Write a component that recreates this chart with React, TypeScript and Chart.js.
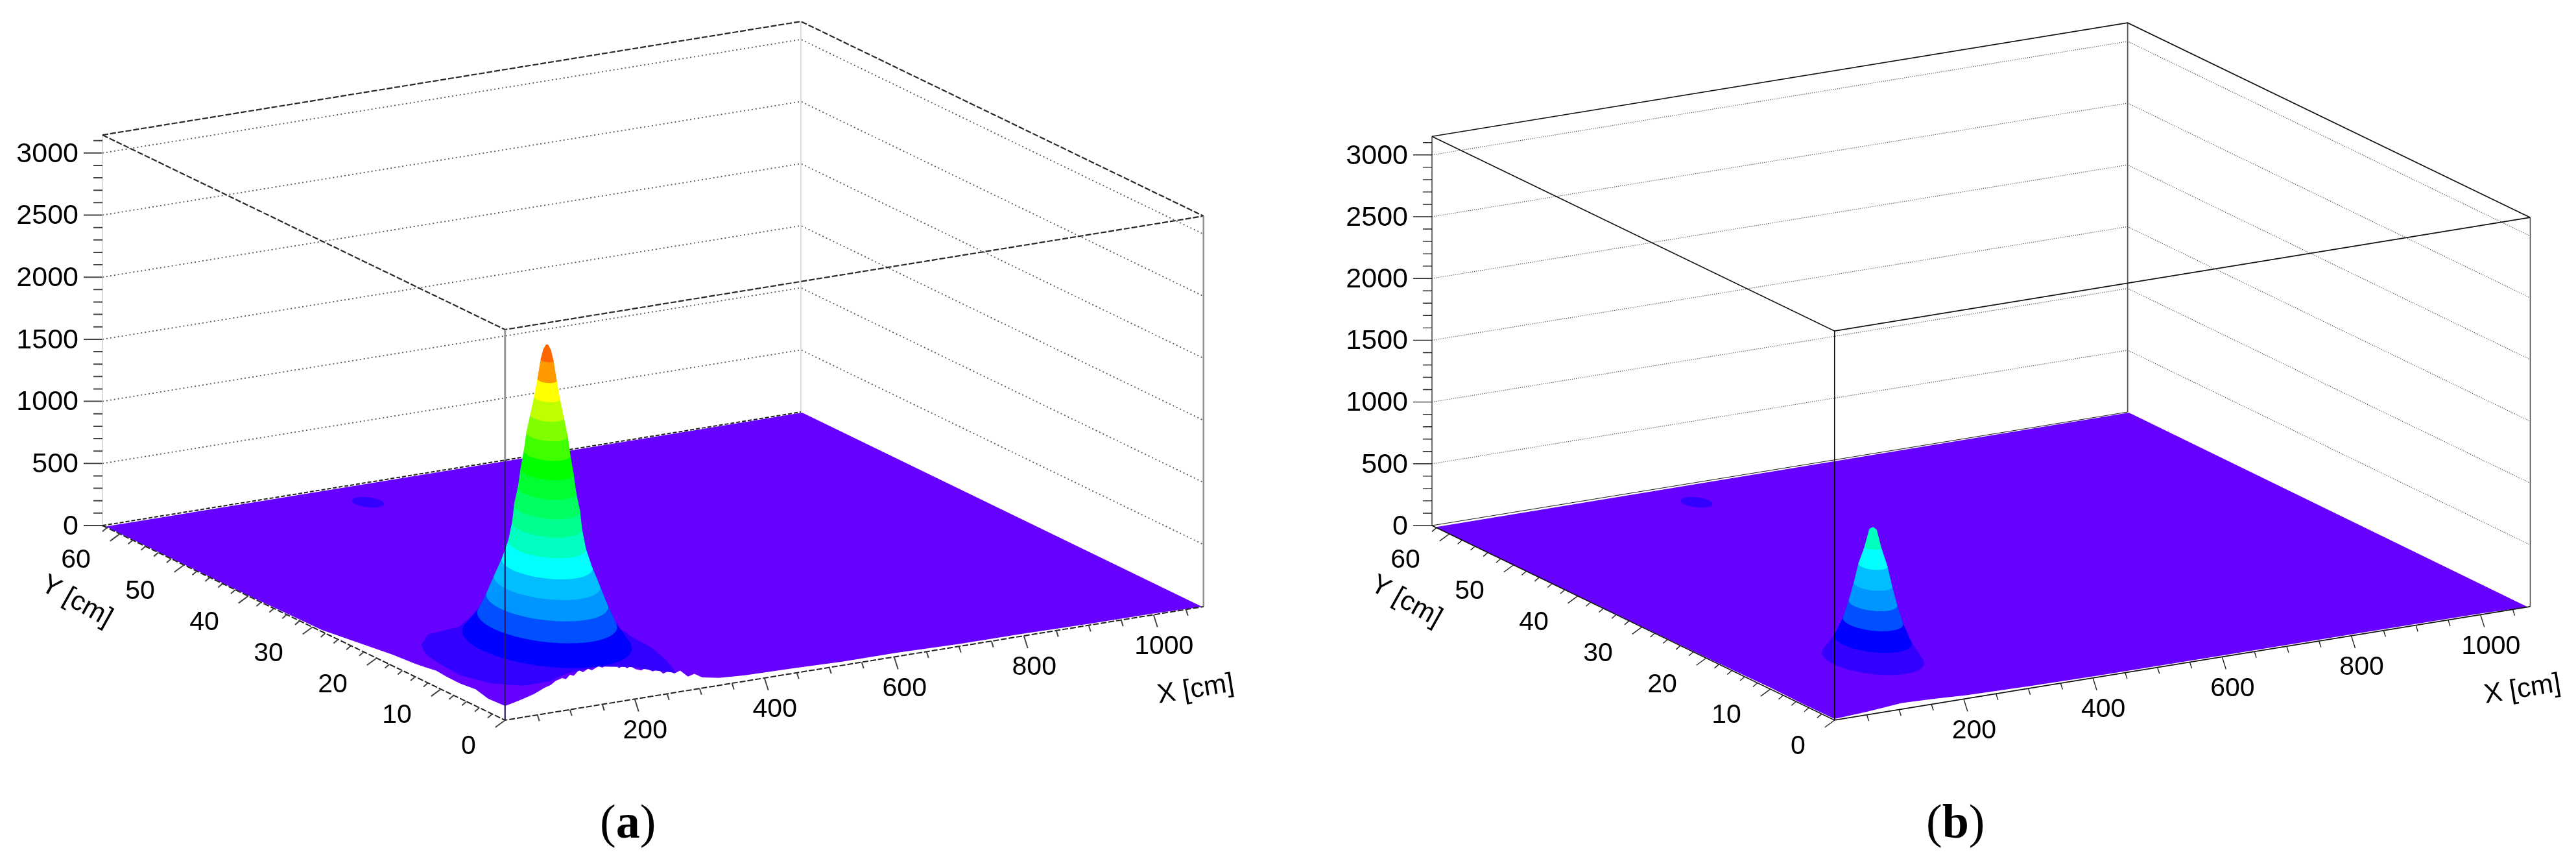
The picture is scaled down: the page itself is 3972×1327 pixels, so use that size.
import React, { useEffect, useRef } from "react";
import { Chart, registerables } from "chart.js";
Chart.register(...registerables);

// ---------- axis values ----------
const zTickLabels = [0, 500, 1000, 1500, 2000, 2500, 3000];
const zMinorTicks = [100, 200, 300, 400, 600, 700, 800, 900, 1100, 1200, 1300, 1400, 1600, 1700, 1800, 1900, 2100, 2200, 2300, 2400, 2600, 2700, 2800, 2900, 3100];
const xTickLabels = [200, 400, 600, 800, 1000];
const xMinorTicks = [50, 100, 150, 250, 300, 350, 450, 500, 550, 650, 700, 750, 850, 900, 950, 1050];
const yTickLabels = [0, 10, 20, 30, 40, 50, 60];
const yMinorTicks = [2, 4, 6, 8, 12, 14, 16, 18, 22, 24, 26, 28, 32, 34, 36, 38, 42, 44, 46, 48, 52, 54, 56, 58, 62];
const gridLevels = [500, 1000, 1500, 2000, 2500, 3000];
const X_MAX = 1077;
const Y_MAX = 62.7;

// ---------- panel (a) surface ----------
const aFrontX = [0, 14, 28, 44, 61, 70, 78, 88, 94, 100, 106, 114, 120, 128, 134, 144, 150, 156, 163, 169, 176, 182, 188, 194, 201, 210, 216, 228, 235, 244, 252, 261, 270, 282, 292, 304, 330, 370, 444, 520, 604, 700, 795, 900, 1000, 1075];
const aFrontZ = [115, 130, 148, 172, 209, 222, 250, 265, 250, 280, 268, 306, 285, 305, 288, 312, 296, 310, 292, 300, 270, 285, 258, 270, 240, 222, 235, 199, 212, 168, 182, 155, 170, 112, 125, 87, 60, 48, 41, 30, 30, 20, 18, 12, 10, 0];
const aSideY = [62.2, 40, 28.5, 17.5, 14, 12.3, 10.7, 9, 7, 4.6, 2.6, 0];
const aSideZ = [5, 5, 13, 90, 105, 117, 131, 122, 120, 134, 107, 115];
const aBaseX = [168, 122, 69, 36, 19, 12.6, 9, 25, 56, 97, 135, 189, 225, 243, 264, 283, 296, 299, 306];
const aBaseY = [21.9, 19.6, 19, 16.7, 14.2, 11.6, 7.9, 4.7, 2.9, 2.9, 4.1, 4.6, 3.2, 1.55, 0, 3.5, 7.2, 10.6, 13.5];
const aBaseZ = 157;
const aLevelZ = [306, 465, 617, 768, 914, 1066, 1222, 1364, 1510, 1661, 1808, 1959, 2105, 2252, 2398, 2557, 2640, 2680];
const aLevelRx = [100.5, 82.8, 72.1, 62.9, 53.7, 46, 41.4, 39.1, 34.5, 31.4, 27.6, 24.5, 19.9, 15.3, 11.5, 7.7, 4.6, 1.5];
const aLevelRy = [8.49, 7, 6.09, 5.31, 4.54, 3.89, 3.5, 3.3, 2.92, 2.66, 2.33, 2.07, 1.68, 1.3, 0.97, 0.65, 0.39, 0.13];
const aLevelColor = ["#0000ff", "#0050ff", "#0096ff", "#00beff", "#00ffff", "#00ffc0", "#00ff90", "#00ff60", "#00ff30", "#00ff00", "#40ff00", "#80ff00", "#c0ff00", "#ffff00", "#ff9900", "#ff6600", "#ff6600"];

// ---------- panel (b) surface ----------
const bFrontX = [0, 50, 104, 154, 204, 300, 400, 600, 800, 1000, 1073];
const bFrontZ = [10, 25, 50, 42, 28, 18, 13, 12, 12, 10, 0];
const bSideY = [62.2, 30, 20, 10, 5, 0];
const bSideZ = [0, 3, 6, 12, 8, 10];
const bLevelZ = [157, 303, 455, 601, 752, 909, 1055, 1195, 1212];
const bLevelRx = [60.6, 46, 35.8, 28.8, 22.8, 17.3, 10, 4.6, 1.5];
const bLevelRy = [5.12, 3.89, 3.03, 2.43, 1.92, 1.46, 0.84, 0.39, 0.13];
const bLevelColor = ["#3300ff", "#0000ff", "#0050ff", "#0096ff", "#00beff", "#00ffff", "#00ffbe", "#00ffbe"];

// small bump near the far edge
const bumpX = 353;
const bumpY = 57;
const bumpZ = 30;
const bumpRx = 19;
const bumpRy = 1.6;

const FLOOR = "#6600ff";
const BUMP = "#3300ff";
const SANS = '"Liberation Sans", Arial, sans-serif';

type Pt = { x: number | null; y: number | null };
type Stroke = { color: string; width: number; dash?: number[] };
type Cfg = {
  left: number; width: number; k: number; sx: number; zTop: number;
  center: [number, number];
  frontX: number[]; frontZ: number[]; sideY: number[]; sideZ: number[];
  levelZ: number[]; levelRx: number[]; levelRy: number[]; levelColor: string[];
  base: boolean;
  frontSplitZ: number;
  frame: Stroke; grid: Stroke; backV: Stroke; frontV: Stroke; frontVLow: Stroke;
  rightV: Stroke; zAxis: Stroke; axis: Stroke; floorBack: Stroke; tick: Stroke;
};

const AXIS_LEFT = 158;
const ZERO_PX = 810;
const H = 1327;

const panelA: Cfg = {
  left: 0, width: 2050, k: 0.1914, sx: 1, zTop: 3145, center: [150, 8.6],
  frontX: aFrontX, frontZ: aFrontZ, sideY: aSideY, sideZ: aSideZ,
  levelZ: aLevelZ, levelRx: aLevelRx, levelRy: aLevelRy, levelColor: aLevelColor, base: true,
  frontSplitZ: 2095,
  frame: { color: "#2a2a2a", width: 2.2, dash: [9, 3] },
  grid: { color: "#555555", width: 1.8, dash: [2, 4] },
  backV: { color: "#dddddd", width: 2 },
  frontV: { color: "#999999", width: 3 },
  frontVLow: { color: "#2a1a66", width: 2.2 },
  rightV: { color: "#8f8f8f", width: 2.5 },
  zAxis: { color: "#dddddd", width: 2 },
  axis: { color: "#222222", width: 2, dash: [9, 3] },
  floorBack: { color: "#222222", width: 2, dash: [6, 3] },
  tick: { color: "#444444", width: 2 },
};
const panelB: Cfg = {
  left: 2050, width: 1922, k: 0.1904, sx: 0.996, zTop: 3150, center: [147, 8.8],
  frontX: bFrontX, frontZ: bFrontZ, sideY: bSideY, sideZ: bSideZ,
  levelZ: bLevelZ, levelRx: bLevelRx, levelRy: bLevelRy, levelColor: bLevelColor, base: false,
  frontSplitZ: 2095,
  frame: { color: "#111111", width: 1.7 },
  grid: { color: "#222222", width: 1.1, dash: [1, 2] },
  backV: { color: "#555555", width: 1.8 },
  frontV: { color: "#000000", width: 1.5 },
  frontVLow: { color: "#000000", width: 1.5 },
  rightV: { color: "#444444", width: 1.5 },
  zAxis: { color: "#222222", width: 1.3 },
  axis: { color: "#111111", width: 1.7 },
  floorBack: { color: "#222222", width: 1.2 },
  tick: { color: "#222222", width: 1.4 },
};

function hull(points: { x: number; y: number }[]) {
  const p = [...points].sort((a, b) => a.x - b.x || a.y - b.y);
  const cross = (o: any, a: any, b: any) => (a.x - o.x) * (b.y - o.y) - (a.y - o.y) * (b.x - o.x);
  const lo: any[] = [];
  for (const q of p) {
    while (lo.length >= 2 && cross(lo[lo.length - 2], lo[lo.length - 1], q) <= 0) lo.pop();
    lo.push(q);
  }
  const up: any[] = [];
  for (const q of [...p].reverse()) {
    while (up.length >= 2 && cross(up[up.length - 2], up[up.length - 1], q) <= 0) up.pop();
    up.push(q);
  }
  return lo.slice(0, -1).concat(up.slice(0, -1));
}

function buildChart(canvas: HTMLCanvasElement, c: Cfg) {
  const P = (x: number, y: number, z: number) => ({
    x: x * c.sx + (Y_MAX - y) * 9.9,
    y: z + (x * 0.1625 - (Y_MAX - y) * 4.784) / c.k,
  });
  const off = (p: { x: number; y: number }, dx: number, dy: number) => ({ x: p.x + dx, y: p.y - dy / c.k });

  const ds: any[] = [];
  const line = (data: Pt[], s: Stroke) =>
    ds.push({
      type: "scatter", data, showLine: true, pointRadius: 0, borderColor: s.color, borderWidth: s.width,
      borderDash: s.dash || [], backgroundColor: "transparent", fill: false, clip: false, spanGaps: false,
    });
  const poly = (data: Pt[], color: string) =>
    ds.push({
      type: "scatter", data, showLine: true, pointRadius: 0, borderColor: color, borderWidth: 0,
      backgroundColor: color, fill: "shape", clip: false,
    });
  const ellipse = (x0: number, y0: number, z: number, rx: number, ry: number) => {
    const out: { x: number; y: number }[] = [];
    for (let i = 0; i < 48; i++) {
      const t = (i / 48) * Math.PI * 2;
      out.push(P(x0 + rx * Math.cos(t), y0 + ry * Math.sin(t), z));
    }
    return out;
  };

  // back walls: dotted levels, edges
  for (const z of gridLevels) line([P(0, Y_MAX, z), P(X_MAX, Y_MAX, z), P(X_MAX, 0, z)], c.grid);
  line([P(X_MAX, Y_MAX, 0), P(X_MAX, Y_MAX, c.zTop)], c.backV);
  line([P(0, Y_MAX, 0), P(0, Y_MAX, c.zTop)], c.zAxis);
  line([P(0, Y_MAX, c.zTop), P(X_MAX, Y_MAX, c.zTop), P(X_MAX, 0, c.zTop)], c.frame);
  line([P(0, Y_MAX, 0), P(X_MAX, Y_MAX, 0)], c.floorBack);

  // surface
  const outline: Pt[] = [];
  c.sideY.forEach((y, i) => outline.push(P(0, y, c.sideZ[i])));
  c.frontX.forEach((x, i) => outline.push(P(x, 0, c.frontZ[i])));
  outline.push(P(X_MAX, 62.5, 0));
  poly(outline, FLOOR);
  poly(ellipse(bumpX, bumpY, bumpZ, bumpRx, bumpRy), BUMP);
  if (c.base) poly(aBaseX.map((x, i) => P(x, aBaseY[i], aBaseZ)), BUMP);
  const [cx, cy] = c.center;
  c.levelColor.forEach((color, i) => {
    const pts = ellipse(cx, cy, c.levelZ[i], c.levelRx[i], c.levelRy[i]).concat(
      ellipse(cx, cy, c.levelZ[i + 1], c.levelRx[i + 1], c.levelRy[i + 1])
    );
    poly(hull(pts), color);
  });

  // front frame
  line([P(0, Y_MAX, c.zTop), P(0, 0, c.zTop), P(X_MAX, 0, c.zTop)], c.frame);
  line([P(0, 0, c.frontSplitZ), P(0, 0, c.zTop)], c.frontV);
  line([P(0, 0, 0), P(0, 0, c.frontSplitZ)], c.frontVLow);
  line([P(X_MAX, 0, 0), P(X_MAX, 0, c.zTop)], c.rightV);
  line([P(0, Y_MAX, 0), P(0, 0, 0), P(X_MAX, 0, 0)], c.axis);

  // tick marks
  const marks: Pt[] = [];
  const seg = (p: { x: number; y: number }, dx: number, dy: number) => {
    marks.push(p, off(p, dx, dy), { x: null, y: null });
  };
  zTickLabels.forEach((z) => seg(P(0, Y_MAX, z), -29, 0));
  zMinorTicks.forEach((z) => seg(P(0, Y_MAX, z), -14, 0));
  xTickLabels.forEach((x) => seg(P(x, 0, 0), 6, 19));
  xMinorTicks.forEach((x) => seg(P(x, 0, 0), 3, 9.5));
  yTickLabels.forEach((y) => seg(P(0, y, 0), -15, 11));
  yMinorTicks.forEach((y) => seg(P(0, y, 0), -7, 6));
  line(marks, c.tick);

  ds.forEach((d, i) => (d.order = -i));

  const textPlugin = {
    id: "axisText",
    afterDraw(chart: any) {
      const { ctx, scales } = chart;
      const px = (p: { x: number; y: number }) => [scales.x.getPixelForValue(p.x), scales.y.getPixelForValue(p.y)];
      ctx.save();
      ctx.fillStyle = "#000";
      ctx.textBaseline = "middle";
      ctx.font = `43px ${SANS}`;
      ctx.textAlign = "right";
      zTickLabels.forEach((z) => {
        const [a, b] = px(P(0, Y_MAX, z));
        ctx.fillText(String(z), a - 37, b + 2);
      });
      ctx.font = `41px ${SANS}`;
      ctx.textAlign = "center";
      xTickLabels.forEach((x) => {
        const [a, b] = px(P(x, 0, 0));
        ctx.fillText(String(x), a + 16, b + 49);
      });
      ctx.textAlign = "right";
      yTickLabels.forEach((y) => {
        const [a, b] = px(P(0, y, 0));
        ctx.fillText(String(y), a - 45, b + 41);
      });
      ctx.textAlign = "center";
      ctx.font = `42px ${SANS}`;
      const [xa, xb] = px(P(X_MAX, 0, 0));
      ctx.save();
      ctx.translate(xa - 12, xb + 128);
      ctx.rotate(-0.16);
      ctx.fillText("X [cm]", 0, 0);
      ctx.restore();
      const [ya, yb] = px(P(0, Y_MAX, 0));
      ctx.save();
      ctx.translate(ya - 40, yb + 117);
      ctx.rotate(0.51);
      ctx.fillText("Y [cm]", 0, 0);
      ctx.restore();
      ctx.restore();
    },
  };

  return new Chart(canvas, {
    type: "scatter",
    data: { datasets: ds },
    plugins: [textPlugin],
    options: {
      responsive: false,
      animation: false,
      devicePixelRatio: 1,
      events: [],
      layout: { padding: 0 },
      plugins: { legend: { display: false }, tooltip: { enabled: false }, title: { display: false } },
      scales: {
        x: { type: "linear", display: false, min: 0, max: c.width - AXIS_LEFT },
        y: {
          type: "linear",
          position: "left",
          min: (ZERO_PX - H) / c.k,
          max: ZERO_PX / c.k,
          afterFit: (s: any) => { s.width = AXIS_LEFT; },
          grid: { display: false, drawTicks: false },
          border: { display: false },
          ticks: { display: false, stepSize: 500 },
        },
      },
    } as any,
  } as any);
}

function Panel({ cfg }: { cfg: Cfg }) {
  const ref = useRef<HTMLCanvasElement>(null);
  useEffect(() => {
    const chart = buildChart(ref.current!, cfg);
    return () => chart.destroy();
  }, [cfg]);
  return (
    <canvas
      ref={ref}
      width={cfg.width}
      height={H}
      style={{ position: "absolute", left: cfg.left, top: 0, width: cfg.width, height: H, display: "block" }}
    />
  );
}

const captionStyle: React.CSSProperties = {
  position: "absolute",
  top: 1229,
  fontFamily: '"Liberation Serif", serif',
  fontSize: 74,
  lineHeight: "74px",
  color: "#000",
  whiteSpace: "nowrap",
};

export default function App() {
  return (
    <div style={{ position: "absolute", left: 0, top: 0, width: 3972, height: H, background: "#fff", overflow: "hidden" }}>
      <Panel cfg={panelA} />
      <Panel cfg={panelB} />
      <div style={{ ...captionStyle, left: 925 }}>(<b>a</b>)</div>
      <div style={{ ...captionStyle, left: 2970 }}>(<b>b</b>)</div>
    </div>
  );
}
